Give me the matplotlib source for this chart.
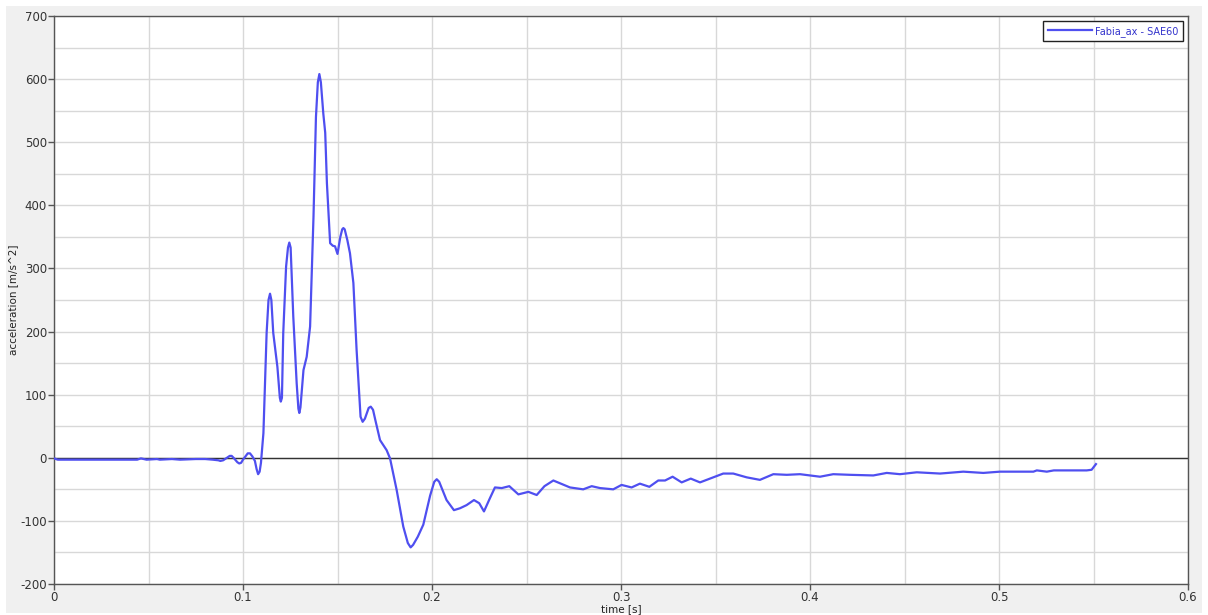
"""Fabia_ax acceleration pulse, SAE60 filtered."""
import matplotlib

matplotlib.use("Agg")
import matplotlib.pyplot as plt  # noqa: E402
from matplotlib.patches import Rectangle  # noqa: E402
from matplotlib.ticker import MultipleLocator, FuncFormatter  # noqa: E402

LINE_COLOR = "#4f4ff0"
GRID_COLOR = "#d8d8d8"
PANEL_COLOR = "#f0f0f0"

# time [s] / acceleration [m/s^2]
time_s = [
    0.000, 0.002, 0.044, 0.046, 0.049, 0.0545, 0.056, 0.0624, 0.0667, 0.075,
    0.080, 0.084, 0.087, 0.088, 0.0895, 0.0915, 0.093, 0.094, 0.095, 0.097,
    0.098, 0.099, 0.100, 0.102, 0.1025, 0.1037, 0.105, 0.1063, 0.1072, 0.108,
    0.1088, 0.1095, 0.1108, 0.1125, 0.1135, 0.1143, 0.115, 0.116, 0.1182, 0.1195,
    0.120, 0.1206, 0.1213, 0.1228, 0.1238, 0.1245, 0.1252, 0.1266, 0.1284, 0.1293,
    0.1298, 0.1304, 0.132, 0.1337, 0.1355, 0.1373, 0.1386, 0.1396, 0.1404, 0.1412,
    0.1425, 0.1435, 0.1444, 0.1461, 0.1475, 0.1487, 0.150, 0.1515, 0.1525, 0.1531,
    0.1538, 0.1552, 0.1566, 0.1584, 0.1601, 0.1622, 0.1633, 0.1645, 0.1665, 0.1676,
    0.1688, 0.170, 0.1725, 0.176, 0.1778, 0.1813, 0.1848, 0.1872, 0.1887, 0.190,
    0.1925, 0.1954, 0.199, 0.2012, 0.2025, 0.2038, 0.2077, 0.2116, 0.2148, 0.2183,
    0.2222, 0.225, 0.2275, 0.2305, 0.2333, 0.2369, 0.2409, 0.2457, 0.251, 0.2554,
    0.2595, 0.2642, 0.273, 0.280, 0.2845, 0.2889, 0.2959, 0.3003, 0.3056, 0.310,
    0.315, 0.3197, 0.3233, 0.3273, 0.3321, 0.3369, 0.3418, 0.3506, 0.3541, 0.3594,
    0.3665, 0.3735, 0.3806, 0.3877, 0.3947, 0.4053, 0.4123, 0.4212, 0.4335, 0.4406,
    0.4476, 0.4565, 0.4688, 0.4811, 0.4917, 0.5005, 0.5182, 0.520, 0.5253, 0.529,
    0.5464, 0.549, 0.5513,
]
accel = [
    -1, -3, -3, -1, -3, -2, -3, -2, -3, -2,
    -2, -3, -4, -5, -4, 0, 3, 3, 0, -7,
    -9, -8, -3, 5, 7, 7, 2, -5, -18, -26,
    -22, -8, 39, 198, 250, 260, 250, 198, 144, 95,
    89, 95, 198, 303, 333, 341, 333, 224, 118, 78,
    71, 80, 139, 160, 208, 382, 540, 595, 608, 595,
    545, 515, 435, 340, 336, 335, 323, 350, 362, 364,
    362, 345, 324, 277, 171, 65, 57, 62, 79, 81,
    76, 60, 28, 12, -1, -51, -109, -135, -142, -138,
    -125, -106, -60, -38, -34, -38, -67, -83, -80, -75,
    -67, -72, -85, -65, -47, -48, -45, -58, -54, -59,
    -45, -36, -47, -50, -45, -48, -50, -43, -47, -41,
    -46, -36, -36, -30, -39, -33, -39, -29, -25, -25,
    -31, -35, -26, -27, -26, -30, -26, -27, -28, -24,
    -26, -23, -25, -22, -24, -22, -22, -20, -22, -20,
    -20, -19, -10,
]
legend_label = "Fabia_ax - SAE60"

fig = plt.figure(figsize=(12.08, 6.15), dpi=100, facecolor="white")
fig.patches.append(Rectangle((6 / 1208, 2 / 615), 1196 / 1208, 607 / 615,
                             transform=fig.transFigure, facecolor=PANEL_COLOR,
                             edgecolor="none", zorder=-10))
ax = fig.add_axes([54 / 1208, 31 / 615, 1134 / 1208, 568 / 615])
ax.set_facecolor("white")

ax.plot(time_s, accel, color=LINE_COLOR, linewidth=1.6, label=legend_label,
        zorder=3, solid_joinstyle="round")
ax.axhline(0, color="#333333", linewidth=1.0, zorder=2)

ax.set_xlim(0, 0.6)
ax.set_ylim(-200, 700)
ax.xaxis.set_major_locator(MultipleLocator(0.1))
ax.xaxis.set_minor_locator(MultipleLocator(0.05))
ax.yaxis.set_major_locator(MultipleLocator(100))
ax.yaxis.set_minor_locator(MultipleLocator(50))
ax.xaxis.set_major_formatter(FuncFormatter(lambda v, _: f"{v:g}"))
ax.yaxis.set_major_formatter(FuncFormatter(lambda v, _: f"{v:g}"))
ax.grid(True, which="both", color=GRID_COLOR, linewidth=1.0, zorder=0)
ax.tick_params(which="major", length=4, width=1, color="#555555",
               labelsize=8.5, labelcolor="#333333", pad=1)
ax.tick_params(which="minor", length=0)
for s in ax.spines.values():
    s.set_color("#555555")
    s.set_linewidth(1.0)

ax.set_xlabel("time [s]", fontsize=7.5, color="#222222", labelpad=0)
ax.set_ylabel("acceleration [m/s^2]", fontsize=7.5, color="#222222", labelpad=2)

leg = ax.legend(loc="upper right", fontsize=7, fancybox=False, framealpha=1,
                edgecolor="#222222", borderaxespad=0.5, handlelength=4.5,
                handletextpad=0.3, borderpad=0.5)
leg.get_frame().set_linewidth(1.0)
for t in leg.get_texts():
    t.set_color("#3333cc")

fig.savefig("out.png", dpi=100, facecolor=fig.get_facecolor())
plt.close(fig)
